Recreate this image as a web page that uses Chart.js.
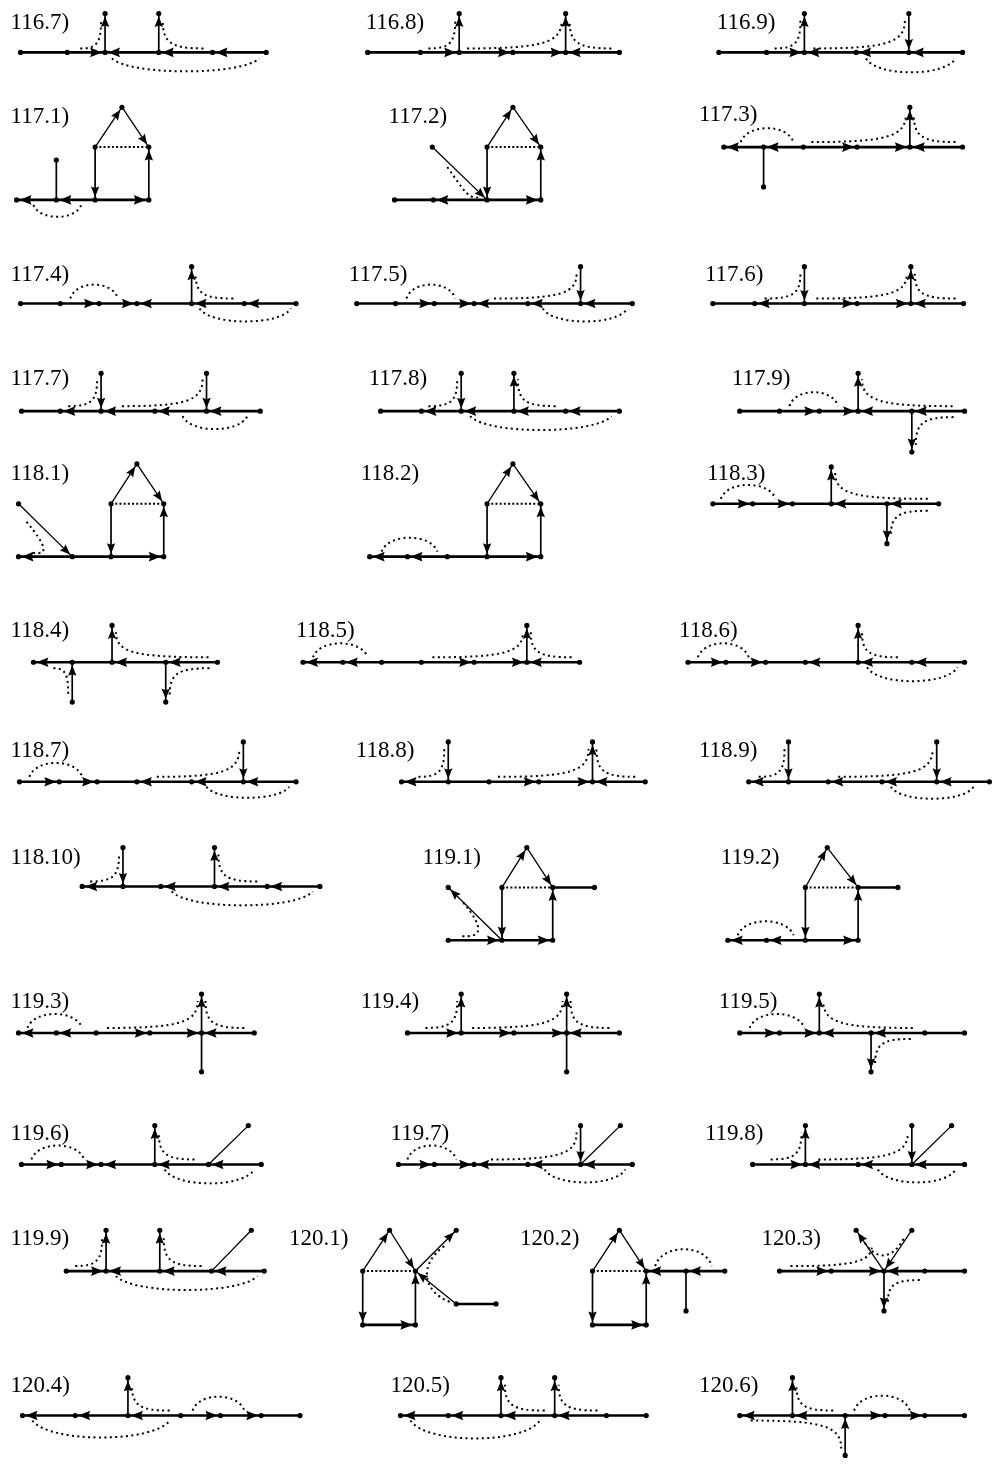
<!DOCTYPE html>
<html>
<head>
<meta charset="utf-8">
<script src="https://cdn.jsdelivr.net/npm/chart.js@4.4.0/dist/chart.umd.min.js"></script>
<style>
html, body { margin: 0; padding: 0; background: #fff; }
canvas { display: block; }
</style>
</head>
<body>
<canvas id="quivers" width="995" height="1465"></canvas>
<script>
// diagram names, in reading order
const names = ['116.7)','116.8)','116.9)','117.1)','117.2)','117.3)','117.4)','117.5)','117.6)',
  '117.7)','117.8)','117.9)','118.1)','118.2)','118.3)','118.4)','118.5)','118.6)',
  '118.7)','118.8)','118.9)','118.10)','119.1)','119.2)','119.3)','119.4)','119.5)',
  '119.6)','119.7)','119.8)','119.9)','120.1)','120.2)','120.3)','120.4)','120.5)','120.6)'];

// where each name sits (left, baseline)
const namePos = [[8,26],[365,26],[718,26],[8,121],[388,121],[700,119],[8,279],[348,279],[706,279],
  [8,384],[368,384],[733,384],[8,479],[360,479],[708,479],[8,637],[295,637],[680,637],
  [8,757],[355,757],[700,757],[8,864],[422,864],[722,864],[8,1009],[360,1009],[720,1009],
  [8,1141],[390,1141],[706,1141],[8,1247],[288,1247],[520,1247],[763,1247],[8,1394],[390,1394],[700,1394]];

// vertices of each quiver
const nodes = [
  [[18,50],[65,50],[103,50],[157,50],[211,50],[265,50],[103,11],[157,11]],
  [[367,50],[420,50],[459,50],[513,50],[566,50],[620,50],[459,11],[566,11]],
  [[720,50],[768,50],[806,50],[858,50],[911,50],[965,50],[806,11],[911,11]],
  [[14,198],[54,198],[93,198],[147,198],[54,158],[93,145],[147,145],[120,105]],
  [[394,198],[433,198],[487,198],[541,198],[432,145],[487,145],[541,145],[513,105]],
  [[725,145],[765,145],[805,145],[859,145],[912,145],[965,145],[912,105],[765,185]],
  [[18,302],[58,302],[97,302],[135,302],[190,302],[243,302],[295,302],[190,265]],
  [[356,302],[395,302],[434,302],[474,302],[528,302],[581,302],[633,302],[581,265]],
  [[714,302],[756,302],[806,302],[859,302],[913,302],[966,302],[806,265],[913,265]],
  [[19,410],[58,410],[99,410],[153,410],[205,410],[259,410],[99,372],[205,372]],
  [[380,410],[421,410],[461,410],[514,410],[566,410],[620,410],[461,372],[514,372]],
  [[741,410],[781,410],[821,410],[860,410],[914,410],[967,410],[860,372],[914,451]],
  [[16,556],[70,556],[109,556],[162,556],[16,503],[109,503],[162,503],[135,463]],
  [[369,556],[407,556],[447,556],[487,556],[541,556],[487,503],[541,503],[513,463]],
  [[714,503],[754,503],[794,503],[833,503],[889,503],[941,503],[833,466],[889,543]],
  [[31,662],[70,662],[110,662],[164,662],[216,662],[110,625],[70,702],[164,702]],
  [[302,662],[342,662],[381,662],[421,662],[474,662],[527,662],[580,662],[527,625]],
  [[689,662],[727,662],[767,662],[807,662],[860,662],[914,662],[967,662],[860,625]],
  [[17,782],[57,782],[95,782],[135,782],[190,782],[242,782],[295,782],[242,742]],
  [[401,782],[448,782],[489,782],[539,782],[593,782],[646,782],[448,742],[593,742]],
  [[750,782],[790,782],[830,782],[884,782],[939,782],[992,782],[790,742],[939,742]],
  [[80,887],[121,887],[159,887],[213,887],[266,887],[319,887],[121,848],[213,848]],
  [[448,941],[502,941],[553,941],[448,888],[502,888],[553,888],[595,888],[527,848]],
  [[729,941],[768,941],[807,941],[860,941],[807,888],[860,888],[900,888],[829,848]],
  [[16,1034],[54,1034],[94,1034],[148,1034],[200,1034],[253,1034],[200,995],[200,1073]],
  [[407,1034],[461,1034],[514,1034],[567,1034],[620,1034],[461,995],[567,995],[567,1073]],
  [[741,1034],[781,1034],[821,1034],[873,1034],[927,1034],[967,1034],[821,995],[873,1073]],
  [[19,1166],[59,1166],[99,1166],[153,1166],[207,1166],[260,1166],[153,1127],[247,1127]],
  [[398,1166],[434,1166],[474,1166],[528,1166],[581,1166],[633,1166],[581,1127],[621,1127]],
  [[754,1166],[807,1166],[860,1166],[914,1166],[967,1166],[807,1127],[914,1127],[954,1127]],
  [[64,1273],[104,1273],[158,1273],[210,1273],[263,1273],[104,1232],[158,1232],[250,1232]],
  [[362,1273],[415,1273],[389,1232],[456,1232],[456,1306],[496,1306],[362,1327],[415,1327]],
  [[593,1273],[647,1273],[687,1273],[726,1273],[620,1232],[687,1313],[593,1327],[647,1327]],
  [[781,1273],[833,1273],[886,1273],[927,1273],[967,1273],[858,1232],[914,1232],[886,1313]],
  [[20,1418],[73,1418],[126,1418],[179,1418],[219,1418],[260,1418],[299,1418],[126,1380]],
  [[400,1418],[448,1418],[501,1418],[555,1418],[607,1418],[647,1418],[501,1380],[555,1380]],
  [[741,1418],[794,1418],[847,1418],[887,1418],[927,1418],[967,1418],[794,1380],[847,1458]]
];

// arrows [from, to]
const arrows = [
  [[1,2],[3,2],[4,3],[5,4],[2,6],[3,7]],
  [[1,2],[2,3],[3,4],[5,4],[2,6],[4,7]],
  [[1,2],[3,2],[4,3],[5,4],[2,6],[7,4]],
  [[1,0],[2,1],[2,3],[5,7],[7,6],[5,2],[3,6]],
  [[2,1],[2,3],[4,2],[5,7],[7,6],[5,2],[3,6]],
  [[1,0],[2,1],[2,3],[3,4],[5,4],[4,6]],
  [[1,2],[2,3],[4,3],[5,4],[6,5],[4,7]],
  [[1,2],[2,3],[4,3],[5,4],[6,5],[7,5]],
  [[2,1],[2,3],[3,4],[5,4],[6,2],[4,7]],
  [[2,1],[3,2],[4,3],[5,4],[6,2],[7,4]],
  [[2,1],[3,2],[4,3],[5,4],[6,2],[3,7]],
  [[1,2],[2,3],[4,3],[5,4],[3,6],[4,7]],
  [[1,0],[2,3],[4,1],[5,7],[7,6],[5,2],[3,6]],
  [[1,0],[2,1],[3,4],[5,7],[7,6],[5,3],[4,6]],
  [[0,1],[1,2],[4,3],[5,4],[3,6],[4,7]],
  [[1,0],[3,2],[4,3],[2,5],[6,1],[3,7]],
  [[1,0],[2,1],[3,4],[4,5],[6,5],[5,7]],
  [[0,1],[1,2],[4,3],[5,4],[6,5],[4,7]],
  [[0,1],[1,2],[4,3],[5,4],[6,5],[7,5]],
  [[1,0],[2,3],[3,4],[5,4],[6,1],[4,7]],
  [[1,0],[3,2],[4,3],[5,4],[6,1],[7,4]],
  [[1,0],[3,2],[4,3],[5,4],[6,1],[3,7]],
  [[0,1],[1,2],[1,3],[4,7],[7,5],[4,1],[2,5]],
  [[1,0],[2,1],[2,3],[4,7],[7,5],[4,2],[3,5]],
  [[1,0],[2,1],[2,3],[3,4],[5,4],[4,6]],
  [[0,1],[1,2],[2,3],[4,3],[1,5],[3,6]],
  [[0,1],[1,2],[3,2],[4,3],[2,6],[3,7]],
  [[0,1],[1,2],[3,2],[4,3],[5,4],[3,6]],
  [[0,1],[1,2],[3,2],[4,3],[5,4],[6,4]],
  [[0,1],[2,1],[3,2],[4,3],[1,5],[6,3]],
  [[0,1],[2,1],[3,2],[4,3],[1,5],[2,6]],
  [[0,2],[2,1],[1,3],[4,1],[0,6],[6,7],[7,1]],
  [[0,4],[4,1],[2,1],[3,2],[0,6],[6,7],[7,1]],
  [[0,1],[1,2],[3,2],[2,5],[6,2],[2,7]],
  [[1,0],[2,1],[3,2],[3,4],[4,5],[2,7]],
  [[1,0],[2,1],[3,2],[4,3],[2,6],[3,7]],
  [[1,0],[2,1],[2,3],[3,4],[1,6],[7,2]]
];

// plain edges
const lines = [
  [[0,1]],[[0,1]],[[0,1]],[[1,4]],[[0,1]],[[1,7]],[[0,1]],[[0,1]],[[0,1]],
  [[0,1]],[[0,1]],[[0,1]],[[1,2]],[[2,3]],[[2,3]],[[1,2]],[[2,3]],[[2,3]],
  [[2,3]],[[1,2]],[[1,2]],[[1,2]],[[5,6]],[[5,6]],[[4,7]],[[3,7]],[[4,5]],
  [[4,7]],[[4,7]],[[3,7]],[[3,7]],[[4,5]],[[2,5]],[[3,4]],[[5,6]],[[4,5]],[[4,5]]
];

// dotted straight edges
const dotted = [
  [],[],[],[[5,6]],[[5,6]],[],[],[],[],[],[],[],[[5,6]],[[5,6]],[],[],[],[],
  [],[],[],[],[[4,5]],[[4,5]],[],[],[],[],[],[],[],[[0,1]],[[0,1]],[],[],[],[]
];

// dotted relations: b = bend (flat end, upright end), h = hump/dip (x0, x1, base, apex), c = free cubic
const curves = [
  [['b',78,46,99,18],['b',202,46,161,18],['h',110,258,56,69]],
  [['b',428,46,455,18],['b',467,46,562,18],['b',612,46,570,18]],
  [['b',776,46,802,18],['b',815,46,907,18],['h',868,958,56,70]],
  [['h',31,79,203,215]],
  [['c',447,165,465,190,468,198,481,195]],
  [['h',742,795,140,126],['b',813,140,908,112],['b',958,140,916,112]],
  [['h',68,116,297,283],['b',232,297,194,272],['h',198,290,307,320]],
  [['h',406,455,297,283],['b',494,297,577,272],['h',543,628,307,320]],
  [['b',766,297,802,272],['b',818,297,909,272],['b',958,297,917,272]],
  [['b',66,405,95,378],['b',120,405,201,378],['h',181,246,415,428]],
  [['b',428,405,457,378],['b',556,405,518,378],['h',470,612,415,429]],
  [['h',791,840,405,391],['b',955,405,864,378],['b',956,416,918,444]],
  [['c',24,521,44,545,47,555,30,552]],
  [['h',381,437,551,537]],
  [['h',722,777,498,484],['b',930,498,837,472],['b',930,510,893,535]],
  [['b',207,657,114,632],['b',51,668,66,695],['b',208,668,168,695]],
  [['h',312,367,657,643],['b',432,657,523,632],['b',572,657,531,632]],
  [['h',699,750,657,643],['b',900,657,864,632],['h',869,960,667,681]],
  [['h',27,80,777,763],['b',155,777,238,749],['h',205,288,787,798]],
  [['b',418,777,444,749],['b',498,777,589,749],['b',636,777,597,749]],
  [['b',760,777,786,749],['b',840,777,935,749],['h',893,976,787,799]],
  [['b',88,882,117,855],['b',256,882,217,855],['h',170,312,892,906]],
  [['c',463,903,485,930,482,938,461,937]],
  [['h',739,795,936,922]],
  [['h',25,80,1029,1015],['b',105,1029,196,1002],['b',243,1029,204,1002]],
  [['b',425,1029,457,1002],['b',472,1029,563,1002],['b',610,1029,571,1002]],
  [['h',751,806,1029,1015],['b',915,1029,825,1002],['b',913,1040,877,1066]],
  [['h',29,82,1161,1147],['b',193,1161,157,1134],['h',163,253,1171,1185]],
  [['h',407,456,1161,1147],['b',491,1161,577,1134],['h',545,626,1171,1184]],
  [['b',772,1161,803,1134],['b',820,1161,910,1134],['h',880,958,1171,1184]],
  [['b',73,1268,100,1240],['b',200,1268,162,1240],['h',114,256,1278,1292]],
  [['c',444,1248,418,1266,422,1294,450,1304]],
  [['h',656,713,1268,1251]],
  [['b',792,1268,874,1246],['c',864,1240,876,1263,894,1263,906,1240],['b',922,1282,890,1305]],
  [['b',168,1413,130,1387],['h',30,168,1423,1440],['h',191,243,1413,1399]],
  [['b',545,1413,505,1387],['b',598,1413,559,1387],['h',410,540,1423,1441]],
  [['b',835,1413,798,1387],['h',856,912,1413,1398],['b',752,1423,843,1451]]
];

const ink = '#000';

function edgePoints(pairLists, keep) {
  var out = [];
  pairLists.forEach(function (pairs, d) {
    pairs.forEach(function (p) {
      var a = nodes[d][p[0]], b = nodes[d][p[1]];
      if (!keep(a, b)) return;
      out.push({x: a[0], y: a[1]}, {x: b[0], y: b[1]}, {x: null, y: null});
    });
  });
  return out;
}

var solid = arrows.map(function (a, d) { return a.concat(lines[d]); });
var flat = function (a, b) { return a[1] === b[1]; };
var upright = function (a, b) { return a[0] === b[0]; };
var slanted = function (a, b) { return a[0] !== b[0] && a[1] !== b[1]; };

var vertexPoints = [];
nodes.forEach(function (list) {
  list.forEach(function (n) { vertexPoints.push({x: n[0], y: n[1]}); });
});

function edgeSet(label, data, width, dash) {
  return {
    label: label, data: data, showLine: true, spanGaps: false,
    borderColor: ink, borderWidth: width, borderDash: dash || [],
    pointRadius: 0, pointHoverRadius: 0, fill: false
  };
}

const quiverMarks = {
  id: 'quiverMarks',
  afterDatasetsDraw: function (chart) {
    var ctx = chart.ctx, sx = chart.scales.x, sy = chart.scales.y;
    var px = function (v) { return sx.getPixelForValue(v); };
    var py = function (v) { return sy.getPixelForValue(v); };
    ctx.save();

    // arrow heads
    ctx.fillStyle = ink;
    arrows.forEach(function (pairs, d) {
      pairs.forEach(function (p) {
        var a = nodes[d][p[0]], b = nodes[d][p[1]];
        var x1 = px(a[0]), y1 = py(a[1]), x2 = px(b[0]), y2 = py(b[1]);
        var ang = Math.atan2(y2 - y1, x2 - x1);
        var c = Math.cos(ang), s = Math.sin(ang);
        var horiz = a[1] === b[1];
        var len = horiz ? 12 : 10.5, half = horiz ? 4.8 : 4.2;
        var tx = x2 - c * 3, ty = y2 - s * 3;
        ctx.beginPath();
        ctx.moveTo(tx, ty);
        ctx.lineTo(tx - len * c + half * s, ty - len * s - half * c);
        ctx.lineTo(tx - len * c * 0.85, ty - len * s * 0.85);
        ctx.lineTo(tx - len * c - half * s, ty - len * s + half * c);
        ctx.closePath();
        ctx.fill();
      });
    });

    // dotted curves
    ctx.strokeStyle = ink;
    ctx.lineWidth = 2;
    ctx.setLineDash([2, 3.4]);
    curves.forEach(function (list) {
      list.forEach(function (cv) {
        var q;
        if (cv[0] === 'b') {
          var ax = cv[1], ay = cv[2], bx = cv[3], by = cv[4];
          q = [ax, ay, ax + 0.8 * (bx - ax), ay, bx, by + 0.8 * (ay - by), bx, by];
        } else if (cv[0] === 'h') {
          var w = cv[2] - cv[1], top = cv[3] + (cv[4] - cv[3]) * 4 / 3;
          q = [cv[1], cv[3], cv[1] + 0.12 * w, top, cv[2] - 0.12 * w, top, cv[2], cv[3]];
        } else {
          q = cv.slice(1);
        }
        ctx.beginPath();
        ctx.moveTo(px(q[0]), py(q[1]));
        ctx.bezierCurveTo(px(q[2]), py(q[3]), px(q[4]), py(q[5]), px(q[6]), py(q[7]));
        ctx.stroke();
      });
    });
    ctx.setLineDash([]);

    // names
    ctx.font = '23px "Liberation Serif", "DejaVu Serif", serif';
    ctx.textBaseline = 'alphabetic';
    ctx.textAlign = 'left';
    names.forEach(function (t, i) {
      ctx.fillText(t, px(namePos[i][0]), py(namePos[i][1]));
    });
    ctx.restore();
  }
};

new Chart(document.getElementById('quivers'), {
  type: 'scatter',
  data: {
    datasets: [
      {label: 'vertices', data: vertexPoints, pointRadius: 2.6, pointHoverRadius: 2.6,
       pointBackgroundColor: ink, pointBorderWidth: 0, showLine: false},
      edgeSet('flat edges', edgePoints(solid, flat), 2.6),
      edgeSet('upright edges', edgePoints(solid, upright), 1.7),
      edgeSet('slanted edges', edgePoints(solid, slanted), 1.3),
      edgeSet('dotted edges', edgePoints(dotted, function () { return true; }), 2, [2, 2.2])
    ]
  },
  options: {
    responsive: false,
    animation: false,
    events: [],
    layout: {padding: 0},
    plugins: {legend: {display: false}, tooltip: {enabled: false}},
    scales: {
      x: {type: 'linear', min: 0, max: 995, display: false},
      y: {type: 'linear', min: 0, max: 1465, reverse: true, display: false}
    }
  },
  plugins: [quiverMarks]
});
</script>
</body>
</html>
